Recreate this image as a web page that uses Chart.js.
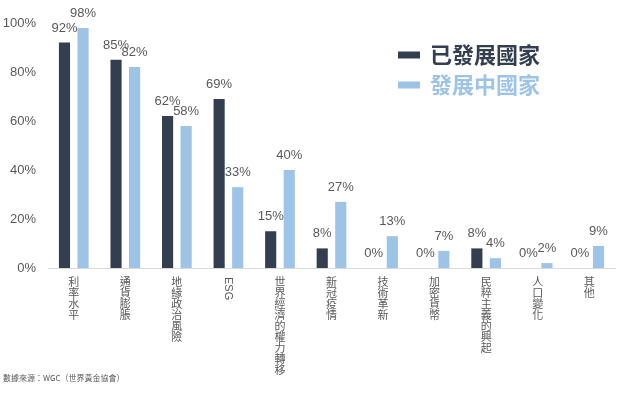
<!DOCTYPE html>
<html>
<head>
<meta charset="utf-8">
<script src="https://cdn.jsdelivr.net/npm/chart.js@4"></script>
<style>
  body { margin: 0; background: #fff; }
  #wrap { position: relative; width: 624px; height: 393px; }
  #source {
    position: absolute; left: 3px; top: 372px;
    font: 8px "Noto Sans CJK TC", sans-serif; color: #595959;
  }
</style>
</head>
<body>
<div id="wrap">
  <canvas id="chart"></canvas>
  <div id="source">數據來源：WGC（世界黃金協會）</div>
</div>
<script>
// Chart data
const categories = ['利率水平', '通貨膨脹', '地緣政治風險', 'ESG', '世界經濟的權力轉移', '新冠疫情', '技術革新', '加密貨幣', '民粹主義的興起', '人口變化', '其他'];
const developed = [92, 85, 62, 69, 15, 8, 0, 0, 8, 0, 0];
const developing = [98, 82, 58, 33, 40, 27, 13, 7, 4, 2, 9];
const seriesNames = ['已發展國家', '發展中國家'];
const yTicks = [0, 20, 40, 60, 80, 100];

const DARK = '#333f50';
const LIGHT = '#9dc3e6';
const GREY = '#595959';
const CJK = '"Noto Sans CJK TC", sans-serif';
const LATIN = '"Liberation Sans", Arial, sans-serif';

// Value labels above each bar
const valueLabels = {
    id: 'valueLabels',
    afterDatasetsDraw(chart) {
        const ctx = chart.ctx;
        ctx.save();
        ctx.font = '13px ' + LATIN;
        ctx.fillStyle = GREY;
        ctx.textAlign = 'center';
        ctx.textBaseline = 'bottom';
        chart.data.datasets.forEach((ds, i) => {
            chart.getDatasetMeta(i).data.forEach((bar, j) => {
                ctx.fillText(ds.data[j] + '%', bar.x, bar.y - 8);
            });
        });
        ctx.restore();
    }
};

// Rotated latin label (ESG) and the legend in the upper right
const extras = {
    id: 'extras',
    afterDraw(chart) {
        const ctx = chart.ctx;
        const xScale = chart.scales.x;
        ctx.save();
        categories.forEach((c, i) => {
            if (!/^[A-Za-z]+$/.test(c)) return;
            ctx.save();
            ctx.translate(xScale.getPixelForTick(i), xScale.top + 9);
            ctx.rotate(Math.PI / 2);
            ctx.font = '11px ' + LATIN;
            ctx.fillStyle = GREY;
            ctx.textAlign = 'left';
            ctx.textBaseline = 'middle';
            ctx.fillText(c, 0, 0);
            ctx.restore();
        });

        const colors = [DARK, LIGHT];
        ctx.font = 'bold 22px ' + CJK;
        ctx.textBaseline = 'middle';
        ctx.textAlign = 'left';
        seriesNames.forEach((name, i) => {
            const y = 55 + i * 30;
            ctx.fillStyle = colors[i];
            ctx.fillRect(398, y - 3.5, 22, 7);
            ctx.fillText(name, 430, y);
        });
        ctx.restore();
    }
};

new Chart(document.getElementById('chart'), {
    type: 'bar',
    data: {
        labels: categories,
        datasets: [{
            label: seriesNames[0],
            data: developed,
            backgroundColor: DARK
        }, {
            label: seriesNames[1],
            data: developing,
            backgroundColor: LIGHT
        }]
    },
    options: {
        responsive: true,
        maintainAspectRatio: false,
        animation: false,
        categoryPercentage: 0.72,
        barPercentage: 0.6,
        layout: { padding: { top: 23, right: 9 } },
        plugins: {
            legend: { display: false },
            tooltip: { enabled: false }
        },
        scales: {
            x: {
                grid: { display: false, drawTicks: false },
                border: { color: '#d9d9d9' },
                ticks: {
                    autoSkip: false,
                    maxRotation: 0,
                    padding: 8,
                    color: GREY,
                    font: { family: CJK, size: 11, lineHeight: 1 },
                    callback: function(v) {
                        const s = this.getLabelForValue(v);
                        return /^[A-Za-z]+$/.test(s) ? '' : s.split('');
                    }
                },
                afterFit: scale => { scale.height = 125; }
            },
            y: {
                min: 0,
                max: 100,
                grid: { display: false, drawTicks: false },
                border: { display: false },
                afterBuildTicks: scale => { scale.ticks = yTicks.map(v => ({ value: v })); },
                ticks: {
                    padding: 12,
                    color: GREY,
                    font: { family: LATIN, size: 13 },
                    callback: v => v + '%'
                },
                afterFit: scale => { scale.width = 48; }
            }
        }
    },
    plugins: [valueLabels, extras]
});
</script>
</body>
</html>
